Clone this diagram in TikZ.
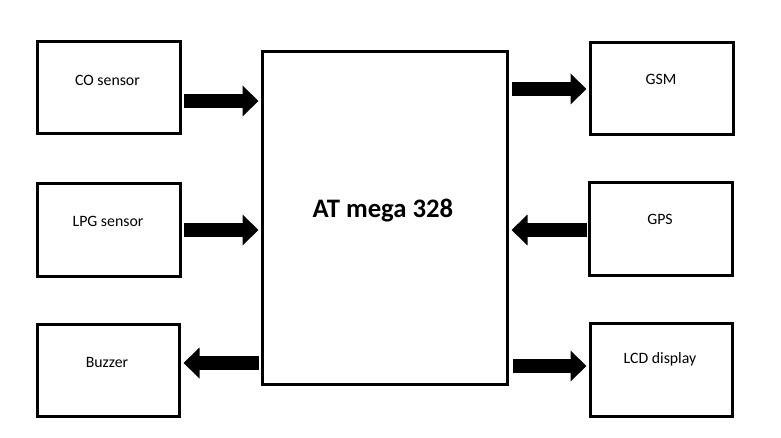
\documentclass[tikz,border=0pt]{standalone}
\usepackage{fontspec}
\setmainfont{Carlito}
\usetikzlibrary{arrows.meta,calc}
\begin{document}
\begin{tikzpicture}[x=1pt,y=-1pt,
  box/.style={draw=black,line width=3pt,rectangle,inner sep=0pt,minimum width=143pt,minimum height=92pt},
  lbl/.style={font=\fontsize{15.8}{18}\selectfont,inner sep=0pt},
  blockarrow/.style={line width=14pt,-{Triangle[length=16pt,width=30pt]}}]
\useasboundingbox[fill=white] (0,0) rectangle (781,438);
% boxes
\node[box] (co) at (108.5,88) {};
\node[box] (lpg) at (108.5,230) {};
\node[box,minimum width=142pt] (buz) at (108,370) {};
\node[box] (gsm) at (661.5,89) {};
\node[box] (gps) at (661,229) {};
\node[box,minimum width=142pt,minimum height=93pt] (lcd) at (661,369.5) {};
\node[box,minimum width=245pt,minimum height=333pt] (mcu) at (384.5,218.3) {};
% labels
\node[lbl] (tco) at (107.5,80) {CO sensor};
\node[lbl] (tlpg) at (108,221) {LPG sensor};
\node[lbl] (tbuz) at (107,362) {Buzzer};
\node[lbl] (tgsm) at (661,79) {GSM};
\node[lbl] (tgps) at (660,219) {GPS};
\node[lbl] (tlcd) at (660,359) {LCD display};
\node[font=\fontsize{26.7}{30}\selectfont\bfseries,inner sep=0pt] (tmcu) at (383,211) {AT mega 328};
% arrows
\coordinate (a1s) at ($(co.east |- 0,101)+(2,0)$);
\coordinate (a1e) at ($(mcu.west |- 0,101)+(-2,0)$);
\draw[blockarrow] (a1s) -- (a1e);
\coordinate (a2s) at ($(lpg.east |- 0,230)+(2,0)$);
\coordinate (a2e) at ($(mcu.west |- 0,230)+(-2,0)$);
\draw[blockarrow] (a2s) -- (a2e);
\coordinate (a3s) at ($(mcu.west |- 0,363)+(-2,0)$);
\coordinate (a3e) at ($(buz.east |- 0,363)+(3,0)$);
\draw[blockarrow] (a3s) -- (a3e);
\coordinate (a4s) at ($(mcu.east |- 0,89)+(3,0)$);
\coordinate (a4e) at ($(gsm.west |- 0,89)+(-2,0)$);
\draw[blockarrow] (a4s) -- (a4e);
\coordinate (a5s) at ($(gps.west |- 0,230)+(-1,0)$);
\coordinate (a5e) at ($(mcu.east |- 0,230)+(3,0)$);
\draw[blockarrow] (a5s) -- (a5e);
\coordinate (a6s) at ($(mcu.east |- 0,366)+(4,0)$);
\coordinate (a6e) at ($(lcd.west |- 0,366)+(-2,0)$);
\draw[blockarrow] (a6s) -- (a6e);
\end{tikzpicture}
\end{document}
